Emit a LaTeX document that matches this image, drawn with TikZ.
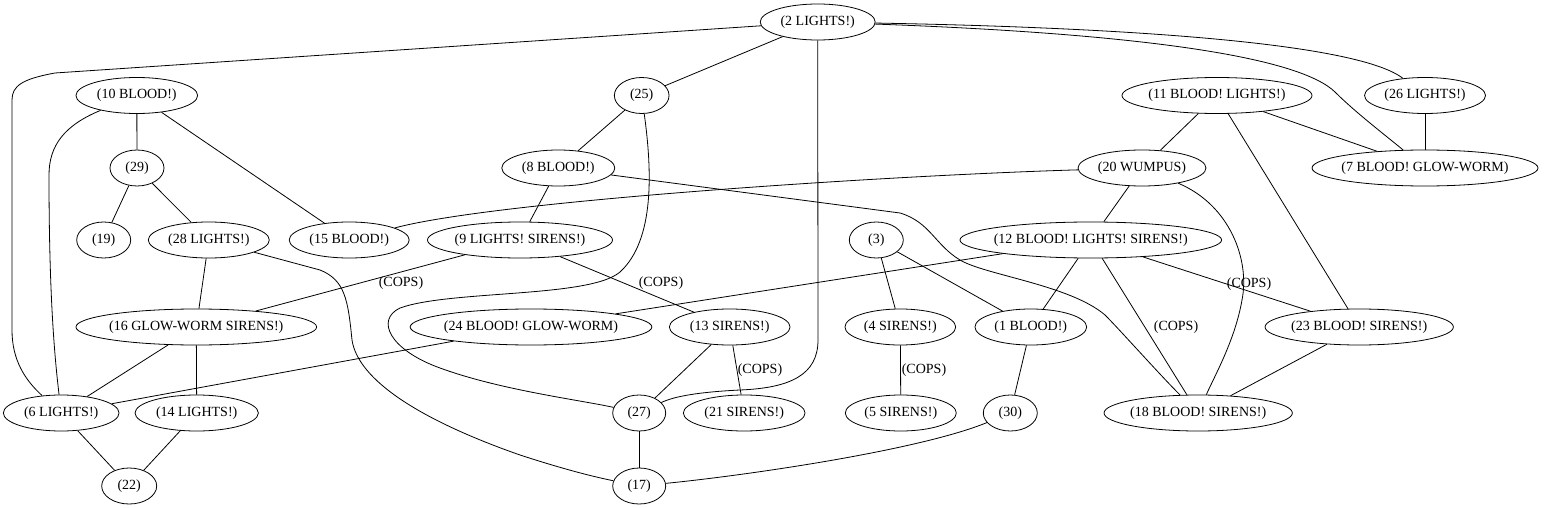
\documentclass[tikz,border=0pt]{standalone}
\usepackage{fontspec}
\setmainfont{Liberation Serif}
\usetikzlibrary{shapes.geometric}
\begin{document}
\begin{tikzpicture}[x=1pt,y=-1pt,
  font=\fontsize{14}{16}\selectfont,
  gn/.style={draw, ellipse, minimum height=36pt, inner sep=0pt, line width=0.8pt},
  every label/.style={font=\fontsize{14}{16}\selectfont, inner sep=0pt},
  conn/.style={draw, line width=0.8pt},
  lbl/.style={inner sep=0pt}]
\useasboundingbox (0,0) rectangle (1556,508);
% nodes
\node[gn, minimum width=115pt, label={center:(2 LIGHTS!)}] (n2) at (817.7,22) {};
\node[gn, minimum width=121.7pt, label={center:(10 BLOOD!)}] (n10) at (136.8,95.5) {};
\node[gn, minimum width=54.7pt, label={center:(25)}] (n25) at (641.7,95.5) {};
\node[gn, minimum width=190pt, label={center:(11 BLOOD! LIGHTS!)}] (n11) at (1217,95.5) {};
\node[gn, minimum width=121pt, label={center:(26 LIGHTS!)}] (n26) at (1425,95.5) {};
\node[gn, minimum width=54pt, label={center:(29)}] (n29) at (137,168) {};
\node[gn, minimum width=113pt, label={center:(8 BLOOD!)}] (n8) at (558.3,168) {};
\node[gn, minimum width=128pt, label={center:(20 WUMPUS)}] (n20) at (1142,168) {};
\node[gn, minimum width=226pt, label={center:(7 BLOOD! GLOW-WORM)}] (n7) at (1425,168) {};
\node[gn, minimum width=54pt, label={center:(19)}] (n19) at (103.7,240) {};
\node[gn, minimum width=121pt, label={center:(28 LIGHTS!)}] (n28) at (208.8,240) {};
\node[gn, minimum width=120pt, label={center:(15 BLOOD!)}] (n15) at (349.2,240) {};
\node[gn, minimum width=185pt, label={center:(9 LIGHTS! SIRENS!)}] (n9) at (520,240) {};
\node[gn, minimum width=54pt, label={center:(3)}] (n3) at (876.3,240) {};
\node[gn, minimum width=261.7pt, label={center:(12 BLOOD! LIGHTS! SIRENS!)}] (n12) at (1090.8,240) {};
\node[gn, minimum width=240.7pt, label={center:(16 GLOW-WORM SIRENS!)}] (n16) at (196.3,327) {};
\node[gn, minimum width=241.7pt, label={center:(24 BLOOD! GLOW-WORM)}] (n24) at (531,327) {};
\node[gn, minimum width=120.7pt, label={center:(13 SIRENS!)}] (n13) at (729.7,327) {};
\node[gn, minimum width=110.7pt, label={center:(4 SIRENS!)}] (n4) at (900.3,327) {};
\node[gn, minimum width=111.7pt, label={center:(1 BLOOD!)}] (n1) at (1030.8,327) {};
\node[gn, minimum width=188.3pt, label={center:(23 BLOOD! SIRENS!)}] (n23) at (1359.2,327) {};
\node[gn, minimum width=115.7pt, label={center:(6 LIGHTS!)}] (n6) at (61.2,413) {};
\node[gn, minimum width=123.3pt, label={center:(14 LIGHTS!)}] (n14) at (196.7,413) {};
\node[gn, minimum width=53pt, label={center:(27)}] (n27) at (639.2,413) {};
\node[gn, minimum width=121.7pt, label={center:(21 SIRENS!)}] (n21) at (744.2,413) {};
\node[gn, minimum width=111pt, label={center:(5 SIRENS!)}] (n5) at (900.8,413) {};
\node[gn, minimum width=54pt, label={center:(30)}] (n30) at (1010.3,413) {};
\node[gn, minimum width=188.3pt, label={center:(18 BLOOD! SIRENS!)}] (n18) at (1198.2,413) {};
\node[gn, minimum width=55pt, label={center:(22)}] (n22) at (129.2,486) {};
\node[gn, minimum width=53pt, label={center:(17)}] (n17) at (639.2,486) {};
% edge labels
\node[lbl] (l1) at (401,283) {(COPS)};
\node[lbl] (l2) at (661,283) {(COPS)};
\node[lbl] (l3) at (760,370) {(COPS)};
\node[lbl] (l4) at (924,370) {(COPS)};
\node[lbl] (l5) at (1176,327) {(COPS)};
\node[lbl] (l6) at (1249,284) {(COPS)};
% straight edges
\path[conn] (n2) -- (n25);
\path[conn] (n10) -- (n29);
\path[conn] (n10) -- (n15);
\path[conn] (n29) -- (n19);
\path[conn] (n29) -- (n28);
\path[conn] (n25) -- (n8);
\path[conn] (n8) -- (n9);
\path[conn] (n9) -- (n16);
\path[conn] (n9) -- (n13);
\path[conn] (n20) -- (n12);
\path[conn] (n11) -- (n20);
\path[conn] (n11) -- (n7);
\path[conn] (n11) -- (n23);
\path[conn] (n26) -- (n7);
\path[conn] (n28) -- (n16);
\path[conn] (n12) -- (n24);
\path[conn] (n12) -- (n1);
\path[conn] (n12) -- (n18);
\path[conn] (n12) -- (n23);
\path[conn] (n3) -- (n4);
\path[conn] (n3) -- (n1);
\path[conn] (n16) -- (n6);
\path[conn] (n16) -- (n14);
\path[conn] (n24) -- (n6);
\path[conn] (n13) -- (n27);
\path[conn] (n13) -- (n21);
\path[conn] (n4) -- (n5);
\path[conn] (n1) -- (n30);
\path[conn] (n23) -- (n18);
\path[conn] (n6) -- (n22);
\path[conn] (n14) -- (n22);
\path[conn] (n27) -- (n17);
% curved edges
\path[conn] (n2) -- (55,73) .. controls (22,79) and (12,86) .. (12,100) -- (12,330) .. controls (12,360) and (25,380) .. (n6);
\path[conn] (n10) .. controls (65,125) and (49,145) .. (49,175) .. controls (49,300) and (55,360) .. (n6);
\path[conn] (n2) -- (818,340) .. controls (818,375) and (790,388) .. (740,390) .. controls (700,392) and (675,396) .. (n27);
\path[conn] (n25) .. controls (652,170) and (655,240) .. (620,272) .. controls (590,298) and (450,290) .. (400,308) .. controls (375,320) and (390,350) .. (440,368) .. controls (500,390) and (580,400) .. (n27);
\path[conn] (n28) -- (320,270) .. controls (345,280) and (348,300) .. (352,340) .. controls (358,380) and (420,420) .. (520,455) .. controls (560,468) and (590,476) .. (n17);
\path[conn] (n8) -- (900,213) .. controls (930,222) and (935,245) .. (960,260) .. controls (985,275) and (1070,285) .. (1105,315) .. controls (1120,330) and (1160,375) .. (n18);
\path[conn] (n20) .. controls (900,175) and (500,200) .. (n15);
\path[conn] (n20) .. controls (1230,205) and (1250,260) .. (1242,300) .. controls (1235,340) and (1215,375) .. (n18);
\path[conn] (n2) .. controls (1150,28) and (1360,45) .. (n26);
\path[conn] (n2) .. controls (1150,34) and (1300,58) .. (1335,92) .. controls (1355,112) and (1385,135) .. (n7);
\path[conn] (n30) .. controls (920,450) and (750,475) .. (n17);
\end{tikzpicture}
\end{document}
